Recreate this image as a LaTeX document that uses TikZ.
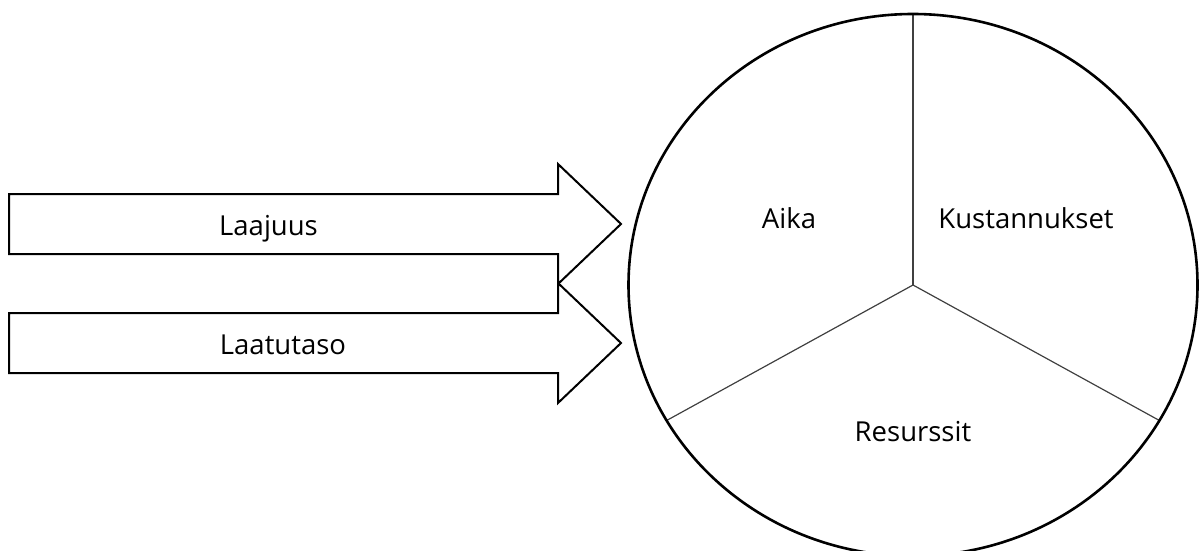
\documentclass[tikz,border=0pt]{standalone}
\usepackage{fontspec}
\setmainfont{Open Sans}
\usetikzlibrary{calc}
\begin{document}
\begin{tikzpicture}[x=1pt,y=-1pt,
  bigarrow/.style={draw=black,line width=2pt,line join=miter,fill=white},
  ring/.style={draw=black,line width=2.6pt},
  divider/.style={draw=black!75,line width=1.2pt},
  lbl/.style={font=\fontsize{27.5}{32}\selectfont,anchor=base,inner sep=0pt}]
  \useasboundingbox (0,0) rectangle (1199,551);
  % two block arrows pointing at the circle
  \foreach \cy/\nm in {224/A,343/B}{
    \draw[bigarrow] (9,\cy-30) -- (558,\cy-30) -- (558,\cy-60) -- (621,\cy)
      -- (558,\cy+60) -- (558,\cy+30) -- (9,\cy+30) -- cycle;
  }
  \node[lbl] (laajuus) at (268.5,235) {Laajuus};
  \node[lbl] (laatutaso) at (283,354) {Laatutaso};
  % circle split into three sectors
  \coordinate (c) at (913,285);
  \draw[divider] (c) -- ($(c)+(90:284.5pt and 271pt)$);
  \draw[divider] (c) -- ($(c)+(210:284.5pt and 271pt)$);
  \draw[divider] (c) -- ($(c)+(-30:284.5pt and 271pt)$);
  \draw[ring] (c) ellipse [x radius=284.5pt, y radius=271pt];
  \node[lbl] (aika) at (789,228) {Aika};
  \node[lbl] (kust) at (1026,228) {Kustannukset};
  \node[lbl] (res) at (913,441) {Resurssit};
\end{tikzpicture}
\end{document}
